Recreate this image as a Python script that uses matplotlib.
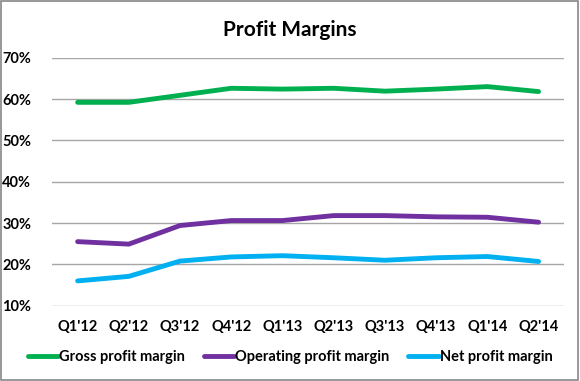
#!/usr/bin/env python3
"""Profit margins line chart (quarterly, Q1'12 - Q2'14)."""

import matplotlib

matplotlib.use("Agg")
import matplotlib.pyplot as plt
from matplotlib.patches import Rectangle
from matplotlib.ticker import FuncFormatter, MultipleLocator

QUARTERS = ["Q1'12", "Q2'12", "Q3'12", "Q4'12", "Q1'13",
            "Q2'13", "Q3'13", "Q4'13", "Q1'14", "Q2'14"]
GROSS = [59.2, 59.2, 60.9, 62.6, 62.4, 62.6, 61.9, 62.4, 63.0, 61.8]
OPERATING = [25.5, 24.9, 29.4, 30.6, 30.6, 31.8, 31.8, 31.5, 31.4, 30.2]
NET = [16.0, 17.1, 20.8, 21.8, 22.1, 21.6, 21.0, 21.6, 21.9, 20.7]

SERIES = [
    ("Gross profit margin", GROSS, "#00B050"),
    ("Operating profit margin", OPERATING, "#7030A0"),
    ("Net profit margin", NET, "#00B0F0"),
]

plt.rcParams["font.family"] = ["Lato", "DejaVu Sans"]
plt.rcParams["font.weight"] = "bold"

fig = plt.figure(figsize=(5.8, 3.81), dpi=100)
fig.patch.set_facecolor("white")
ax = fig.add_axes([0.0897, 0.1976, 0.883, 0.651])

x = list(range(len(QUARTERS)))
for label, values, color in SERIES:
    ax.plot(x, values, color=color, linewidth=3.5, label=label,
            solid_capstyle="round", solid_joinstyle="round")

ax.set_xlim(-0.5, len(QUARTERS) - 0.5)
ax.set_ylim(10, 70)
ax.yaxis.set_major_locator(MultipleLocator(10))
ax.yaxis.set_major_formatter(FuncFormatter(lambda v, _: f"{v:.0f}%"))
ax.set_xticks(x)
ax.set_xticklabels(QUARTERS)
ax.tick_params(axis="both", length=0, labelsize=10.5, colors="#000000")
ax.tick_params(axis="y", pad=15)
ax.tick_params(axis="x", pad=10)
ax.grid(axis="y", color="#A6A6A6", linewidth=1.0)
ax.set_axisbelow(True)
for side in ("top", "right", "left", "bottom"):
    ax.spines[side].set_visible(False)

fig.text(0.5, 0.922, "Profit Margins", ha="center", va="center",
         fontsize=15, fontweight="bold")

fig.legend(loc="center", bbox_to_anchor=(0.5, 0.062), ncol=3,
           frameon=False, fontsize=10.5, handlelength=2.1, handletextpad=0.05,
           columnspacing=1.3)

fig.add_artist(Rectangle((0.001, 0.002), 0.996, 0.995, transform=fig.transFigure,
                         fill=False, edgecolor="#868686", linewidth=1.2))

fig.savefig("out.png", dpi=100, facecolor=fig.get_facecolor())
